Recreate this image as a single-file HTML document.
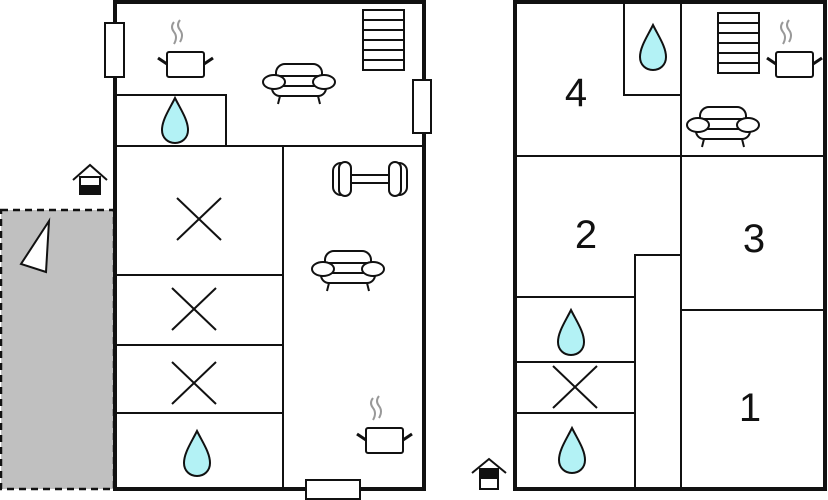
<!DOCTYPE html>
<html><head><style>html,body{margin:0;padding:0;background:#fff}svg{display:block}</style></head>
<body>
<svg width="828" height="500" viewBox="0 0 828 500" xmlns="http://www.w3.org/2000/svg">
<defs>
<g id="sofa" fill="#fff" stroke="#111" stroke-width="2">
<line x1="18" y1="32" x2="16" y2="40"/><line x1="56" y1="32" x2="58" y2="40"/>
<rect x="14" y="0" width="46" height="22" rx="9"/>
<rect x="10" y="12" width="54" height="20" rx="8"/>
<line x1="20" y1="22" x2="54" y2="22"/>
<ellipse cx="12" cy="18" rx="11" ry="7"/><ellipse cx="62" cy="18" rx="11" ry="7"/>
</g>
<g id="pot">
<path d="M17 -30 q-4 5 0 10 q4 5 0 12 M23 -32 q-4 5 0 10 q4 5 0 12" fill="none" stroke="#999" stroke-width="2"/>
<line x1="1" y1="6" x2="10" y2="12" stroke="#111" stroke-width="3"/>
<line x1="56" y1="6" x2="47" y2="12" stroke="#111" stroke-width="3"/>
<rect x="10" y="0" width="37" height="25" rx="2" fill="#fff" stroke="#111" stroke-width="2"/>
</g>
<g id="stairs" fill="#fff" stroke="#111" stroke-width="2">
<rect x="0" y="0" width="41" height="60"/>
<line x1="0" y1="10" x2="41" y2="10"/><line x1="0" y1="20" x2="41" y2="20"/><line x1="0" y1="30" x2="41" y2="30"/><line x1="0" y1="40" x2="41" y2="40"/><line x1="0" y1="50" x2="41" y2="50"/>
</g>
<path id="drop" d="M0 0 C-6 12 -13 22 -13 32 C-13 40 -7 45 0 45 C7 45 13 40 13 32 C13 22 6 12 0 0Z" fill="#b3f2f5" stroke="#111" stroke-width="2"/>
<g id="x" stroke="#111" stroke-width="2"><line x1="0" y1="0" x2="44" y2="42"/><line x1="44" y1="0" x2="0" y2="42"/></g>
</defs>

<!-- left terrace -->
<rect x="1" y="210" width="113" height="279" fill="#c0c0c0" stroke="#111" stroke-width="2.5" stroke-dasharray="7,5"/>
<polygon points="49,221 21,264 46,272" fill="#fff" stroke="#111" stroke-width="2"/>
<!-- house icon left -->
<g transform="translate(90,165)" stroke="#111" stroke-width="2" fill="#fff">
<polyline points="-17,15 0,0 17,15" fill="none"/>
<rect x="-10" y="12" width="20" height="17"/><rect x="-10" y="21" width="20" height="8" fill="#111"/>
</g>

<!-- left building -->
<g fill="none" stroke="#111" stroke-width="2">
<line x1="115" y1="146" x2="424" y2="146"/>
<polyline points="116,95 226,95 226,146"/>
<line x1="283" y1="146" x2="283" y2="489"/>
<line x1="115" y1="275" x2="283" y2="275"/>
<line x1="115" y1="345" x2="283" y2="345"/>
<line x1="115" y1="413" x2="283" y2="413"/>
</g>
<rect x="115" y="2" width="309" height="487" fill="none" stroke="#111" stroke-width="4"/>
<g fill="#fff" stroke="#111" stroke-width="2">
<rect x="105" y="23" width="19" height="54"/>
<rect x="413" y="80" width="18" height="53"/>
<rect x="306" y="480" width="54" height="19"/>
</g>
<use href="#stairs" x="363" y="10"/>
<use href="#pot" x="157" y="52"/>
<use href="#sofa" x="262" y="64"/>
<use href="#drop" x="175" y="98"/>
<g transform="translate(333,162)" fill="#fff" stroke="#111" stroke-width="2">
<rect x="14" y="13" width="46" height="8"/>
<rect x="0" y="1" width="16" height="32" rx="8"/><rect x="6" y="0" width="12" height="34" rx="6"/>
<rect x="58" y="1" width="16" height="32" rx="8"/><rect x="56" y="0" width="12" height="34" rx="6"/>
</g>
<use href="#sofa" x="311" y="251"/>
<use href="#pot" x="356" y="428"/>
<use href="#x" x="177" y="198"/>
<use href="#x" x="172" y="288"/>
<use href="#x" x="172" y="362"/>
<use href="#drop" x="197" y="431"/>

<!-- right building -->
<g fill="none" stroke="#111" stroke-width="2">
<line x1="681" y1="2" x2="681" y2="489"/>
<polyline points="624,2 624,95 681,95"/>
<line x1="515" y1="156" x2="825" y2="156"/>
<line x1="681" y1="310" x2="825" y2="310"/>
<polyline points="635,489 635,255 681,255"/>
<line x1="515" y1="297" x2="635" y2="297"/>
<line x1="515" y1="362" x2="635" y2="362"/>
<line x1="515" y1="413" x2="635" y2="413"/>
</g>
<rect x="515" y="2" width="310" height="487" fill="none" stroke="#111" stroke-width="4"/>
<use href="#drop" x="653" y="25"/>
<use href="#stairs" x="718" y="13"/>
<use href="#pot" x="766" y="52"/>
<use href="#sofa" x="686" y="107"/>
<use href="#drop" x="571" y="310"/>
<use href="#x" x="553" y="366"/>
<use href="#drop" x="572" y="428"/>
<g font-family="Liberation Sans, sans-serif" font-size="40" fill="#111" text-anchor="middle">
<text x="576" y="106">4</text>
<text x="586" y="248">2</text>
<text x="754" y="252">3</text>
<text x="750" y="421">1</text>
</g>
<g transform="translate(489,459)" stroke="#111" stroke-width="2" fill="#fff">
<polyline points="-17,14 0,0 17,14" fill="none"/>
<rect x="-9" y="10" width="18" height="20"/><rect x="-9" y="10" width="18" height="9" fill="#111"/>
</g>
</svg>
</body></html>
